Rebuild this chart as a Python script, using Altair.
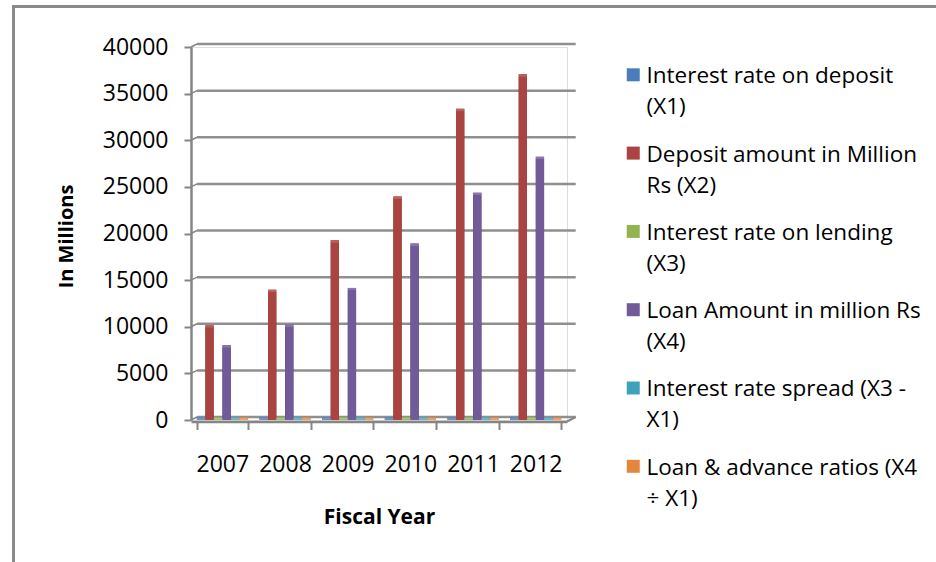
import altair as alt
import pandas as pd

# ---- data -----------------------------------------------------------------
years = ["2007", "2008", "2009", "2010", "2011", "2012"]

# legend labels, "|" marks the line break
series = [
    "Interest rate on deposit|(X1)",
    "Deposit amount in Million|Rs (X2)",
    "Interest rate on lending|(X3)",
    "Loan Amount in million Rs|(X4)",
    "Interest rate spread (X3 -|X1)",
    "Loan & advance ratios (X4|÷ X1)",
]

rate_deposit = [5.5, 5.0, 5.2, 6.8, 7.6, 8.1]
deposit_amount = [9900, 13700, 19000, 23700, 33100, 36800]
rate_lending = [11.5, 11.8, 12.0, 13.2, 14.0, 14.3]
loan_amount = [7750, 9950, 13900, 18650, 24100, 27950]
rate_spread = [6.0, 6.8, 6.8, 6.4, 6.4, 6.2]
loan_advance_ratio = [0.79, 0.73, 0.73, 0.79, 0.73, 0.76]

series_values = [rate_deposit, deposit_amount, rate_lending,
                 loan_amount, rate_spread, loan_advance_ratio]

front_colors = ["#4A7EBB", "#AA4441", "#92B450", "#705A97", "#3FA2BD", "#E4873C"]
side_colors = ["#34598A", "#7A2E2C", "#67823A", "#4D3D6B", "#2C778B", "#A8622A"]
top_colors = ["#6F95C8", "#BE605C", "#A9C677", "#8B74AE", "#6CB8CE", "#EE9F62"]

y_ticks = list(range(0, 40001, 5000))

rows = []
for s, vals, sc, tc in zip(series, series_values, side_colors, top_colors):
    for yr, v in zip(years, vals):
        rows.append({"year": yr, "series": s, "value": v, "side": sc, "top": tc})
df = pd.DataFrame(rows)
ticks_df = pd.DataFrame({"value": y_ticks})
one = pd.DataFrame({"value": [0]})

# ---- geometry of the drawing area ------------------------------------------
W, H = 376, 373
PAD = {"left": 191, "top": 47, "right": 936 - 191 - W, "bottom": 562 - 47 - H}
DEPTH_X, DEPTH_Y = 6, -3          # back-wall shift of the 3-D frame
SHIFT = 3                         # columns stand mid-way into the floor
GRID = "#8F8F8F"
AXIS = "#858585"
FONT = "Open Sans"

y_scale = alt.Scale(domain=[0, 40000], nice=False, zero=True)
x_scale = alt.Scale(domain=years, paddingInner=0.186, paddingOuter=0.093)
off_scale = alt.Scale(domain=series, paddingInner=0.03, paddingOuter=0)

y_axis = alt.Axis(values=y_ticks, grid=False, format="d",
                  domainColor=AXIS, domainWidth=2.5,
                  tickColor=AXIS, tickWidth=2, tickSize=7,
                  labelFont=FONT, labelFontSize=23, labelColor="black",
                  labelPadding=16,
                  titleFont=FONT, titleFontSize=20, titleFontWeight="bold",
                  titleColor="black", titleBaseline="middle",
                  titleX=-125, titleY=189)
x_axis = alt.Axis(labelAngle=0, tickBand="extent", offset=1.5,
                  domainColor=AXIS, domainWidth=2.5,
                  tickColor=AXIS, tickWidth=2, tickSize=8,
                  labelFont=FONT, labelFontSize=23, labelColor="black",
                  labelPadding=24,
                  titleFont=FONT, titleFontSize=21, titleFontWeight="bold",
                  titleColor="black", titleBaseline="middle",
                  titleX=W / 2, titleY=95.5)

Y = alt.Y("value:Q", scale=y_scale, stack=None, title="In Millions", axis=y_axis)
X = alt.X("year:N", scale=x_scale, title="Fiscal Year", axis=x_axis)
OFF = alt.XOffset("series:N", scale=off_scale)

# back-wall gridlines
grid = alt.Chart(ticks_df).mark_rule(
    color=GRID, strokeWidth=2.5, yOffset=DEPTH_Y
).encode(y=Y, x=alt.value(DEPTH_X), x2=alt.value(W + 8.7))

# slanted links from the axis ticks to the back wall
links = alt.Chart(ticks_df).mark_rule(
    color=AXIS, strokeWidth=1.5, y2Offset=DEPTH_Y
).encode(y=Y, y2="value:Q", x=alt.value(0), x2=alt.value(DEPTH_X))

# right-hand edge of the floor
floor_edge = alt.Chart(one).mark_rule(
    color=AXIS, strokeWidth=2, yOffset=1.5, y2Offset=DEPTH_Y
).encode(y=Y, y2="value:Q", x=alt.value(W), x2=alt.value(W + 8.7))

# depth of each column (shifted copy behind the front face)
side = alt.Chart(df).mark_bar(xOffset=SHIFT + 3, yOffset=-2.5, y2Offset=-2.5).encode(
    x=X, xOffset=OFF, y=Y,
    color=alt.Color("side:N", scale=None),
)

front = alt.Chart(df).mark_bar(xOffset=SHIFT).encode(
    x=X, xOffset=OFF, y=Y,
    color=alt.Color(
        "series:N",
        scale=alt.Scale(domain=series, range=front_colors),
        legend=alt.Legend(
            orient="none", legendX=431, legendY=7, direction="vertical",
            title=None, padding=0, rowPadding=13.3,
            symbolType="M-1,0.47H1V2.47H-1Z", symbolSize=169,
            symbolStrokeWidth=0, symbolOpacity=1,
            labelExpr="split(datum.label, '|')",
            labelFont=FONT, labelFontSize=22.5, labelColor="black",
            labelBaseline="top", labelOffset=2, labelLimit=400,
        ),
    ),
)

# top face of each column (also the flat slab of near-zero series)
top = alt.Chart(df).mark_bar(xOffset=SHIFT + 1.5, y2Offset=-2.5).encode(
    x=X, xOffset=OFF, y=Y, y2="value:Q",
    color=alt.Color("top:N", scale=None),
)

# outer frame of the chart area
frame_left = alt.Chart(one).mark_rule(color="#8A8A8A", strokeWidth=3).encode(
    x=alt.value(-177.5), y=alt.value(-40.5), y2=alt.value(H + PAD["bottom"] + 5),
)
frame_top = alt.Chart(one).mark_rule(color="#8A8A8A", strokeWidth=3).encode(
    y=alt.value(-40.5), x=alt.value(-179), x2=alt.value(W + PAD["right"] + 5),
)

chart = alt.layer(
    frame_left, frame_top, grid, links, floor_edge, side, front, top
).properties(
    width=W, height=H,
    padding=PAD,
    autosize=alt.AutoSizeParams(type="none"),
    background="white",
).configure_view(
    stroke=None
).configure(
    style={"guide-label": {"lineHeight": 31}}
)

chart.save("out.html", embed_options={"renderer": "svg", "actions": False})
